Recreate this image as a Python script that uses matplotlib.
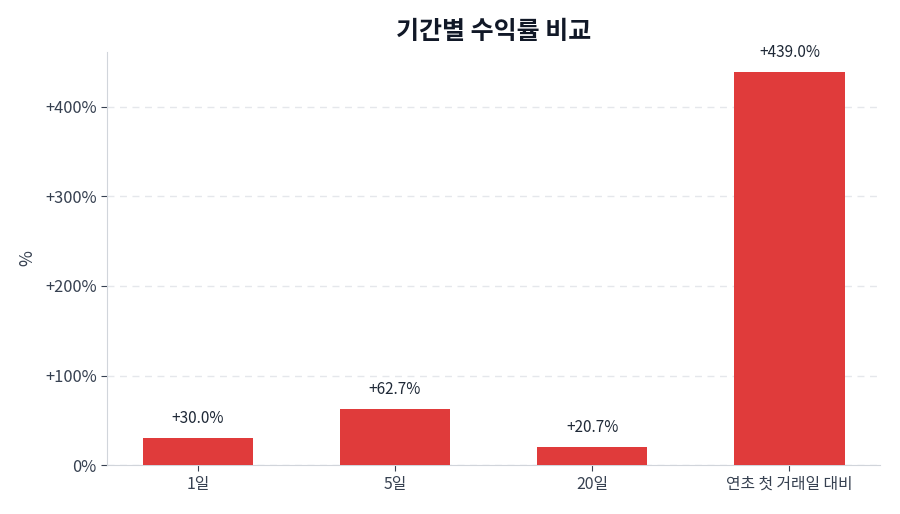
import matplotlib
matplotlib.use("Agg")
import matplotlib.pyplot as plt

plt.rcParams['font.family'] = ['Noto Sans CJK KR', 'DejaVu Sans']

categories = ["1일", "5일", "20일", "연초 첫 거래일 대비"]
values = [30.0, 62.7, 20.7, 439.0]
yticks = [0, 100, 200, 300, 400]
ytick_labels = ["0%", "+100%", "+200%", "+300%", "+400%"]

fig = plt.figure(figsize=(9, 5.14), dpi=100)
ax = fig.add_axes([0.119, 0.095, 0.859, 0.804])

x = range(len(categories))
bars = ax.bar(x, values, width=0.56, color="#e03b3b", zorder=3)

for xi, v in zip(x, values):
    ax.annotate(f"+{v:.1f}%", (xi, v), xytext=(0, 8), textcoords="offset points",
                ha="center", va="bottom", fontsize=11, color="#1f2937")

ax.set_xlim(-0.46, 3.46)
ax.set_ylim(0, 461)
ax.set_xticks(list(x))
ax.set_xticklabels(categories)
ax.set_yticks(yticks)
ax.set_yticklabels(ytick_labels)
ax.tick_params(axis="y", labelsize=11.8, colors="#374151", length=4, color="#374151")
ax.tick_params(axis="x", labelsize=11.4, colors="#374151", length=4, color="#374151")
for lab in ax.get_xticklabels() + ax.get_yticklabels():
    lab.set_color("#374151")

ax.set_ylabel("%", fontsize=12.5, color="#374151", labelpad=6)
ax.set_title("기간별 수익률 비교", fontsize=18, fontweight="bold", color="#111827", pad=9)

ax.grid(axis="y", linestyle=(0, (5, 4)), color="#e5e7eb", linewidth=1, zorder=0)
for s in ["top", "right"]:
    ax.spines[s].set_visible(False)
ax.spines["left"].set_color("#d1d5db")
ax.spines["bottom"].set_color("#d1d5db")

fig.savefig("out.png", dpi=100)
